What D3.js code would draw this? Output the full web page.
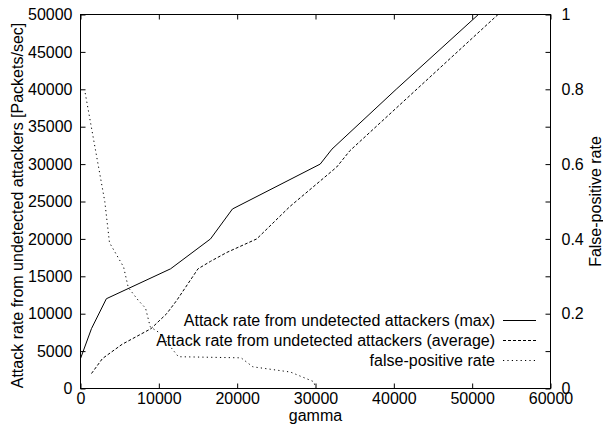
<!DOCTYPE html>
<html>
<head>
<meta charset="utf-8">
<script src="https://cdn.jsdelivr.net/npm/d3@7"></script>
<style>
  html, body { margin: 0; padding: 0; background: #fff; }
  svg text { font-family: "Liberation Sans", Arial, sans-serif; font-size: 16px; fill: #000; }
</style>
</head>
<body>
<svg id="chart" width="603" height="424"></svg>
<script>
// ── Data ─────────────────────────────────────────────────
const xTicks  = [0, 10000, 20000, 30000, 40000, 50000, 60000];
const yTicks  = [0, 5000, 10000, 15000, 20000, 25000, 30000, 35000, 40000, 45000, 50000];
const y2Ticks = [0, 0.1, 0.2, 0.3, 0.4, 0.5, 0.6, 0.7, 0.8, 0.9, 1];

// attack rate from undetected attackers (max) [gamma, packets/sec]
const maxRate = [
  [0, 4000], [1400, 8000], [3300, 12000], [11500, 16000], [16600, 20000],
  [19400, 24000], [30600, 30000], [32100, 32000], [40300, 40000], [50800, 50000]
];
// attack rate from undetected attackers (average)
const avgRate = [
  [1400, 2000], [2800, 4000], [5300, 5900], [9000, 8000], [11000, 10000],
  [12300, 11800], [15000, 16000], [16600, 17000], [18700, 18200], [22500, 20000],
  [26700, 24300], [32700, 29600], [34400, 31800], [53300, 50000]
];
// false-positive rate (right axis)
const fpRate = [
  [600, 0.79], [3100, 0.50], [3700, 0.39], [5500, 0.325], [6100, 0.27],
  [7400, 0.235], [8300, 0.215], [8900, 0.165], [10000, 0.15], [12500, 0.085],
  [20500, 0.082], [22000, 0.058], [26800, 0.044], [29800, 0.018], [30000, 0]
];

const legendLabels = [
  'Attack rate from undetected attackers (max)',
  'Attack rate from undetected attackers (average)',
  'false-positive rate'
];
const dashes = [null, '3,2', '1.2,3.2'];

// ── Layout ───────────────────────────────────────────────
const L = 80.5, R = 550.5, T = 14.5, B = 388.5;

const svg = d3.select('#chart');

const x  = d3.scaleLinear().domain([0, 60000]).range([L, R]);
const y  = d3.scaleLinear().domain([0, 50000]).range([B, T]);
const y2 = d3.scaleLinear().domain([0, 1]).range([B, T]);

svg.append('defs').append('clipPath').attr('id', 'plot-clip')
  .append('rect').attr('x', L).attr('y', T).attr('width', R - L).attr('height', B - T);

// Axes — gnuplot style: ticks inward, top mirrors bottom
const styleAxis = g => {
  g.select('.domain').remove();
  g.selectAll('.tick line').attr('stroke', '#000');
  g.selectAll('text').attr('font-size', null).attr('font-family', null);
};

svg.append('g').attr('transform', `translate(0,${B})`)
  .call(d3.axisBottom(x).tickValues(xTicks).tickSize(-5).tickPadding(4).tickFormat(d3.format('d')))
  .call(styleAxis);

svg.append('g').attr('transform', `translate(0,${T})`)
  .call(d3.axisTop(x).tickValues(xTicks).tickSize(-5).tickFormat(''))
  .call(styleAxis);

svg.append('g').attr('transform', `translate(${L},0)`)
  .call(d3.axisLeft(y).tickValues(yTicks).tickSize(-5).tickPadding(8).tickFormat(d3.format('d')))
  .call(styleAxis);

svg.append('g').attr('transform', `translate(${R},0)`)
  .call(d3.axisRight(y2).tickValues(y2Ticks).tickSize(-5).tickPadding(11)
    .tickFormat(d => Math.round(d * 10) % 2 ? '' : String(+d.toFixed(1))))
  .call(styleAxis);

// Border
svg.append('rect')
  .attr('x', L).attr('y', T).attr('width', R - L).attr('height', B - T)
  .attr('fill', 'none').attr('stroke', '#000').attr('stroke-width', 1);

// Axis titles
svg.append('text')
  .attr('x', (L + R) / 2).attr('y', 421)
  .attr('text-anchor', 'middle')
  .text('gamma');

svg.append('text')
  .attr('transform', `translate(23,${(T + B) / 2 + 4}) rotate(-90)`)
  .attr('text-anchor', 'middle')
  .text('Attack rate from undetected attackers [Packets/sec]');

svg.append('text')
  .attr('transform', `translate(601,${(T + B) / 2}) rotate(-90)`)
  .attr('text-anchor', 'middle')
  .text('False-positive rate');

// Series
const lineY  = d3.line().x(d => x(d[0])).y(d => y(d[1]));
const lineY2 = d3.line().x(d => x(d[0])).y(d => y2(d[1]));

const gLines = svg.append('g').attr('clip-path', 'url(#plot-clip)');
[[maxRate, lineY], [avgRate, lineY], [fpRate, lineY2]].forEach(([data, gen], i) => {
  gLines.append('path')
    .datum(data)
    .attr('d', gen)
    .attr('fill', 'none')
    .attr('stroke', '#000')
    .attr('stroke-width', 1)
    .attr('stroke-dasharray', dashes[i]);
});

// Legend (bottom right, no box)
const legend = svg.append('g');
legendLabels.forEach((label, i) => {
  const ly = 320.5 + i * 20;
  legend.append('text')
    .attr('x', 495).attr('y', ly).attr('dy', '0.35em')
    .attr('text-anchor', 'end')
    .text(label);
  legend.append('line')
    .attr('x1', 503).attr('x2', 536).attr('y1', ly).attr('y2', ly)
    .attr('stroke', '#000').attr('stroke-width', 1)
    .attr('stroke-dasharray', dashes[i]);
});
</script>
</body>
</html>
